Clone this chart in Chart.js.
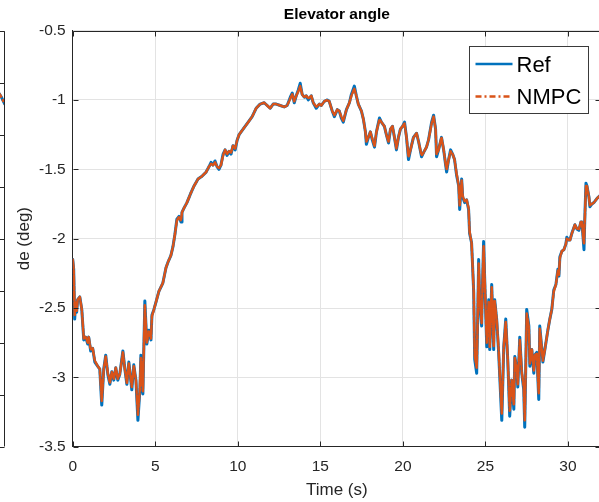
<!DOCTYPE html>
<html>
<head>
<meta charset="utf-8">
<title>Elevator angle</title>
<script src="https://cdn.jsdelivr.net/npm/chart.js@4.4.1/dist/chart.umd.min.js"></script>
<style>
  html, body { margin: 0; padding: 0; background: #fff; overflow: hidden; }
  #wrap { position: relative; width: 599px; height: 502px; overflow: hidden; }
  #sideChart { position: absolute; left: -525px; top: 0; }
  #deChart { position: absolute; left: 0; top: 0; }
</style>
</head>
<body>
<div id="wrap">
  <canvas id="sideChart" width="530" height="502"></canvas>
  <canvas id="deChart" width="601" height="502"></canvas>
</div>
<script>
// Elevator deflection, reference vs NMPC tracking
const time = [
  0, 0.06, 0.12, 0.18, 0.24, 0.30, 0.43, 0.55, 0.67, 0.79, 0.91, 0.97,
  1.09, 1.21, 1.34, 1.52, 1.64, 1.76, 1.88, 2.00, 2.13, 2.25, 2.37, 2.49,
  2.61, 2.73, 2.85, 3.04, 3.16, 3.28, 3.40, 3.58, 3.70, 3.83, 3.95, 4.07,
  4.13, 4.25, 4.37, 4.49, 4.61, 4.74, 4.80, 4.92, 5.04, 5.22, 5.46, 5.65,
  5.77, 5.95, 6.07, 6.19, 6.31, 6.44, 6.56, 6.62, 6.74, 6.92, 7.16, 7.35,
  7.59, 7.83, 8.08, 8.26, 8.38, 8.50, 8.62, 8.74, 8.86, 8.98, 9.11, 9.23,
  9.35, 9.47, 9.59, 9.71, 9.84, 9.96, 10.08, 10.32, 10.63, 10.87, 11.11, 11.35,
  11.60, 11.78, 11.96, 12.14, 12.33, 12.57, 12.81, 12.99, 13.18, 13.30, 13.42, 13.54,
  13.66, 13.78, 13.90, 14.03, 14.15, 14.27, 14.45, 14.57, 14.75, 14.94, 15.06, 15.24,
  15.42, 15.54, 15.72, 15.85, 16.03, 16.15, 16.27, 16.39, 16.58, 16.76, 16.88, 17.06,
  17.18, 17.30, 17.49, 17.61, 17.73, 17.79, 17.91, 18.03, 18.15, 18.28, 18.40, 18.58,
  18.70, 18.88, 19.00, 19.13, 19.25, 19.37, 19.49, 19.61, 19.73, 19.85, 19.98, 20.10,
  20.22, 20.34, 20.46, 20.64, 20.83, 20.95, 21.13, 21.25, 21.43, 21.55, 21.74, 21.86,
  21.98, 22.04, 22.16, 22.34, 22.47, 22.59, 22.65, 22.77, 22.89, 23.01, 23.13, 23.25,
  23.38, 23.44, 23.56, 23.62, 23.74, 23.86, 23.98, 24.04, 24.16, 24.22, 24.29, 24.35,
  24.47, 24.53, 24.59, 24.65, 24.77, 24.83, 24.89, 24.95, 25.08, 25.20, 25.26, 25.38,
  25.50, 25.56, 25.68, 25.80, 25.87, 25.99, 26.11, 26.23, 26.35, 26.41, 26.47, 26.59,
  26.72, 26.78, 26.90, 26.96, 27.08, 27.20, 27.32, 27.38, 27.44, 27.50, 27.63, 27.69,
  27.81, 27.93, 27.99, 28.11, 28.23, 28.29, 28.42, 28.48, 28.60, 28.78, 28.90, 29.02,
  29.14, 29.27, 29.39, 29.45, 29.51, 29.63, 29.75, 29.87, 29.93, 30.05, 30.12, 30.24,
  30.42, 30.54, 30.66, 30.78, 30.84, 30.90, 30.97, 31.03, 31.09, 31.15, 31.27, 31.33,
  31.45, 31.57, 31.76, 31.94, 32.20
];

const refDe = [
  -2.15, -2.22, -2.58, -2.46, -2.53, -2.44, -2.42, -2.51, -2.73, -2.71, -2.76, -2.71,
  -2.81, -2.79, -2.89, -2.92, -2.94, -3.20, -2.94, -2.84, -2.98, -3.05, -2.96, -3.02,
  -2.93, -3.02, -2.98, -2.81, -2.94, -3.05, -2.89, -3.09, -2.91, -3.02, -3.31, -3.09,
  -2.84, -3.12, -2.45, -2.76, -2.66, -2.73, -2.55, -2.51, -2.46, -2.38, -2.32, -2.21,
  -2.17, -2.12, -2.06, -1.97, -1.86, -1.84, -1.88, -1.81, -1.78, -1.74, -1.67, -1.62,
  -1.57, -1.55, -1.52, -1.48, -1.45, -1.47, -1.44, -1.48, -1.50, -1.47, -1.39, -1.36,
  -1.40, -1.37, -1.39, -1.33, -1.36, -1.29, -1.25, -1.21, -1.16, -1.12, -1.06, -1.03,
  -1.02, -1.04, -1.06, -1.03, -1.03, -1.04, -1.05, -1.04, -0.98, -0.95, -1.02, -0.97,
  -0.93, -0.88, -0.96, -0.98, -0.97, -1.00, -0.97, -1.02, -1.06, -1.03, -1.04, -1.01,
  -1.00, -1.01, -1.08, -1.12, -1.07, -1.08, -1.13, -1.16, -1.07, -1.02, -0.96, -0.90,
  -0.97, -1.03, -1.08, -1.14, -1.23, -1.32, -1.27, -1.23, -1.29, -1.34, -1.23, -1.13,
  -1.16, -1.19, -1.25, -1.31, -1.21, -1.19, -1.27, -1.36, -1.27, -1.21, -1.19, -1.16,
  -1.27, -1.43, -1.36, -1.27, -1.24, -1.30, -1.41, -1.38, -1.34, -1.29, -1.16, -1.11,
  -1.21, -1.41, -1.36, -1.27, -1.36, -1.47, -1.52, -1.43, -1.36, -1.39, -1.43, -1.54,
  -1.62, -1.79, -1.57, -1.70, -1.74, -1.72, -1.79, -1.96, -2.03, -2.19, -2.39, -2.87,
  -2.97, -2.58, -2.15, -2.44, -2.63, -2.30, -2.02, -2.27, -2.78, -2.44, -2.80, -2.33,
  -2.80, -2.44, -2.58, -2.82, -3.00, -3.31, -2.78, -2.58, -2.87, -3.07, -3.28, -3.02,
  -3.23, -2.85, -2.94, -3.07, -2.71, -2.97, -3.09, -3.36, -2.94, -2.51, -2.63, -2.92,
  -2.80, -2.97, -2.84, -2.82, -3.16, -2.63, -2.80, -2.89, -2.80, -2.66, -2.58, -2.51,
  -2.37, -2.33, -2.22, -2.27, -2.13, -2.09, -2.08, -2.04, -1.99, -2.01, -2.01, -1.96,
  -1.90, -1.93, -1.94, -1.88, -1.88, -1.97, -2.08, -1.81, -1.60, -1.62, -1.70, -1.77,
  -1.75, -1.74, -1.71, -1.69, -1.67
];

const nmpcDe = [
  -2.15, -2.22, -2.55, -2.46, -2.52, -2.44, -2.42, -2.51, -2.72, -2.71, -2.75, -2.71,
  -2.80, -2.79, -2.88, -2.92, -2.94, -3.17, -2.94, -2.85, -2.97, -3.04, -2.96, -3.01,
  -2.93, -3.01, -2.98, -2.82, -2.94, -3.04, -2.90, -3.07, -2.92, -3.02, -3.27, -3.08,
  -2.86, -3.10, -2.48, -2.75, -2.67, -2.72, -2.56, -2.51, -2.46, -2.38, -2.32, -2.21,
  -2.17, -2.12, -2.06, -1.97, -1.87, -1.84, -1.87, -1.81, -1.78, -1.74, -1.67, -1.62,
  -1.57, -1.55, -1.52, -1.48, -1.46, -1.47, -1.45, -1.48, -1.49, -1.47, -1.40, -1.36,
  -1.39, -1.37, -1.38, -1.33, -1.35, -1.29, -1.25, -1.21, -1.16, -1.12, -1.06, -1.03,
  -1.02, -1.04, -1.06, -1.03, -1.03, -1.04, -1.05, -1.04, -0.99, -0.96, -1.01, -0.97,
  -0.94, -0.90, -0.96, -0.98, -0.97, -0.99, -0.97, -1.02, -1.05, -1.03, -1.04, -1.01,
  -1.00, -1.01, -1.08, -1.11, -1.07, -1.08, -1.12, -1.15, -1.07, -1.02, -0.97, -0.92,
  -0.97, -1.03, -1.08, -1.14, -1.23, -1.30, -1.27, -1.23, -1.28, -1.33, -1.23, -1.14,
  -1.16, -1.19, -1.25, -1.30, -1.21, -1.19, -1.27, -1.35, -1.27, -1.21, -1.19, -1.17,
  -1.27, -1.41, -1.36, -1.27, -1.24, -1.30, -1.40, -1.38, -1.34, -1.29, -1.17, -1.12,
  -1.21, -1.39, -1.36, -1.27, -1.36, -1.46, -1.50, -1.43, -1.37, -1.39, -1.43, -1.53,
  -1.62, -1.76, -1.58, -1.69, -1.73, -1.72, -1.78, -1.95, -2.03, -2.19, -2.39, -2.84,
  -2.93, -2.58, -2.18, -2.44, -2.61, -2.31, -2.05, -2.27, -2.75, -2.45, -2.78, -2.35,
  -2.78, -2.45, -2.58, -2.80, -2.98, -3.26, -2.78, -2.60, -2.86, -3.05, -3.24, -3.02,
  -3.20, -2.86, -2.94, -3.05, -2.73, -2.96, -3.07, -3.31, -2.94, -2.54, -2.64, -2.90,
  -2.80, -2.95, -2.84, -2.83, -3.12, -2.65, -2.80, -2.88, -2.80, -2.66, -2.58, -2.51,
  -2.38, -2.33, -2.23, -2.26, -2.14, -2.09, -2.08, -2.04, -2.00, -2.01, -2.01, -1.96,
  -1.90, -1.93, -1.93, -1.88, -1.88, -1.96, -2.04, -1.82, -1.62, -1.62, -1.70, -1.76,
  -1.75, -1.74, -1.71, -1.69, -1.67
];

const xTicks = [0, 5, 10, 15, 20, 25, 30];
const yTicks = [-3.5, -3, -2.5, -2, -1.5, -1, -0.5];

// last samples of the subplot sitting to the left
const sideTime = [31.5, 31.75, 32];
const sideRef = [2.86, 2.74, 2.58];
const sideNmpc = [2.86, 2.74, 2.58];
const sideTicks = [-4, -3, -2, -1, 0, 1, 2, 3, 4];

const FONT = '"Liberation Sans", Arial, Helvetica, sans-serif';
const AXIS = '#262626';
const GRID = '#e3e3e3';
const BLUE = '#0072BD';
const ORANGE = '#D95319';
const DASH_DOT = [9, 2, 3, 2];

Chart.defaults.font.family = FONT;
Chart.defaults.color = AXIS;

const toPoints = (xs, ys) => xs.map((x, i) => ({ x: x, y: ys[i] }));
const fixTicks = (list) => (scale) => { scale.ticks = list.map(v => ({ value: v })); };

// box outline + inward tick marks, MATLAB style
const axesBox = {
    id: 'axesBox',
    afterDatasetsDraw(chart, args, opts) {
        const { ctx, chartArea: a } = chart;
        const len = 5;
        const L = Math.round(a.left) + 0.5, R = Math.round(a.right) - 0.5;
        const T = Math.round(a.top) + 0.5, B = Math.round(a.bottom) - 0.5;
        ctx.save();
        ctx.strokeStyle = AXIS;
        ctx.lineWidth = 1;
        ctx.beginPath();
        ctx.moveTo(L, T); ctx.lineTo(R, T); ctx.lineTo(R, B);
        const xs = chart.scales.x, ys = chart.scales.y;
        if (opts.xTicks !== false) {
            xs.ticks.forEach(t => {
                const px = Math.round(xs.getPixelForValue(t.value)) + 0.5;
                ctx.moveTo(px, B); ctx.lineTo(px, B - len);
                ctx.moveTo(px, T); ctx.lineTo(px, T + len);
            });
        }
        ys.ticks.forEach(t => {
            const py = Math.round(ys.getPixelForValue(t.value)) + 0.5;
            if (opts.left !== false) { ctx.moveTo(L, py); ctx.lineTo(L + len, py); }
            ctx.moveTo(R, py); ctx.lineTo(R - len, py);
        });
        ctx.stroke();
        ctx.restore();
    }
};

// legend box in the upper right corner of the axes
const boxLegend = {
    id: 'boxLegend',
    afterDraw(chart) {
        const { ctx, chartArea: a } = chart;
        const w = 119, h = 67;
        const x0 = Math.round(a.right - 13 - w) + 0.5;
        const y0 = Math.round(a.top + 15) + 0.5;
        ctx.save();
        ctx.fillStyle = '#fff';
        ctx.fillRect(x0, y0, w, h);
        ctx.strokeStyle = '#3a3a3a';
        ctx.lineWidth = 1;
        ctx.strokeRect(x0, y0, w, h);
        ctx.font = '22px ' + FONT;
        ctx.textBaseline = 'middle';
        ctx.fillStyle = '#000';
        ['Ref', 'NMPC'].forEach((name, i) => {
            const ds = chart.data.datasets.find(d => d.label === name);
            const cy = y0 + 17.5 + i * 32.5;
            ctx.beginPath();
            ctx.strokeStyle = ds.borderColor;
            ctx.lineWidth = 2.5;
            ctx.setLineDash(ds.borderDash ? [6, 3, 2, 3] : []);
            ctx.moveTo(x0 + 6, cy);
            ctx.lineTo(x0 + 43, cy);
            ctx.stroke();
            ctx.setLineDash([]);
            ctx.fillText(name, x0 + 47, cy + 1.5);
        });
        ctx.restore();
    }
};

new Chart(document.getElementById('sideChart'), {
    type: 'line',
    data: {
        datasets: [
            { label: 'Ref', data: toPoints(sideTime, sideRef), borderColor: BLUE, borderWidth: 3, order: 2 },
            { label: 'NMPC', data: toPoints(sideTime, sideNmpc), borderColor: ORANGE, borderWidth: 2.5, borderDash: DASH_DOT, order: 1 }
        ]
    },
    options: {
        responsive: false,
        animation: false,
        devicePixelRatio: 1,
        layout: { padding: { left: 0, right: 0, top: 30.6, bottom: 55.3 } },
        elements: { point: { radius: 0 }, line: { tension: 0 } },
        plugins: { legend: { display: false }, tooltip: { enabled: false } },
        scales: {
            x: { type: 'linear', min: 0, max: 32, display: false },
            y: { min: -4, max: 4, display: false, afterBuildTicks: fixTicks(sideTicks) }
        }
    },
    plugins: [{ id: 'sideBox', afterDatasetsDraw: (c, a) => axesBox.afterDatasetsDraw(c, a, { xTicks: false, left: false }) }]
});

new Chart(document.getElementById('deChart'), {
    type: 'line',
    data: {
        datasets: [
            { label: 'Ref', data: toPoints(time, refDe), borderColor: BLUE, borderWidth: 3, order: 2 },
            { label: 'NMPC', data: toPoints(time, nmpcDe), borderColor: ORANGE, borderWidth: 2.5, borderDash: DASH_DOT, order: 1 }
        ]
    },
    options: {
        responsive: false,
        animation: false,
        devicePixelRatio: 1,
        layout: { padding: 0 },
        elements: { point: { radius: 0 }, line: { tension: 0, borderJoinStyle: 'round', borderCapStyle: 'round' } },
        plugins: {
            legend: { display: false },
            tooltip: { enabled: false },
            title: {
                display: true,
                text: 'Elevator angle',
                fullSize: false,
                color: '#000',
                font: { size: 15.5, weight: 'bold' },
                padding: { top: 5, bottom: 7 }
            }
        },
        scales: {
            x: {
                type: 'linear',
                min: 0,
                max: 32,
                afterBuildTicks: fixTicks(xTicks),
                afterFit: (s) => { s.height = 55.3; },
                grid: { color: GRID, drawTicks: false },
                border: { color: AXIS },
                ticks: { padding: 11, font: { size: 15.5 }, color: AXIS, callback: (v) => String(v) },
                title: { display: true, text: 'Time (s)', color: AXIS, font: { size: 17 }, padding: { top: 0, bottom: 1 } }
            },
            y: {
                min: -3.5,
                max: -0.5,
                afterBuildTicks: fixTicks(yTicks),
                afterFit: (s) => { s.width = 72.7; },
                grid: { color: GRID, drawTicks: false },
                border: { color: AXIS },
                ticks: { padding: 7, font: { size: 15.5 }, color: AXIS, callback: (v) => String(v) },
                title: { display: true, text: 'de (deg)', color: AXIS, font: { size: 17 }, padding: { top: 14, bottom: 0 } }
            }
        }
    },
    plugins: [{ id: 'mainBox', afterDatasetsDraw: (c, a) => axesBox.afterDatasetsDraw(c, a, {}) }, boxLegend]
});
</script>
</body>
</html>
